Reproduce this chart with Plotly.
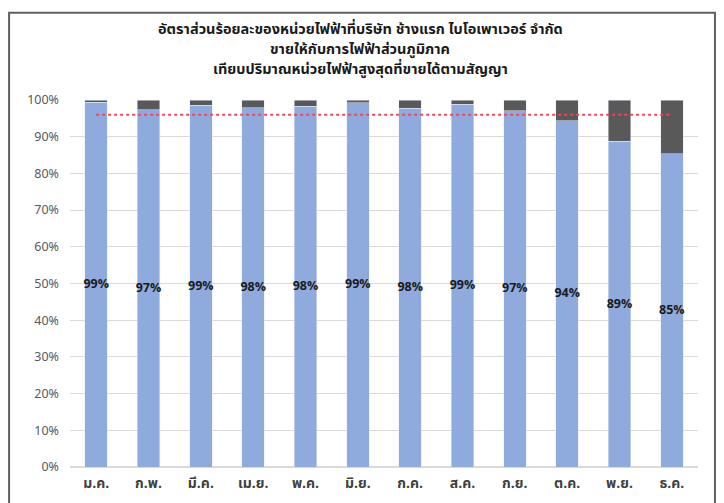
import plotly.graph_objects as go

months = ["ม.ค.", "ก.พ.", "มี.ค.", "เม.ย.", "พ.ค.", "มิ.ย.",
          "ก.ค.", "ส.ค.", "ก.ย.", "ต.ค.", "พ.ย.", "ธ.ค."]
sold_pct = [99.4, 97.3, 98.6, 97.9, 98.3, 99.2, 97.7, 98.9, 97.1, 94.4, 88.7, 85.3]
rest_pct = [round(100 - v, 1) for v in sold_pct]
target_pct = [96] * len(months)

title_lines = [
    "อัตราส่วนร้อยละของหน่วยไฟฟ้าที่บริษัท ช้างแรก ไบโอเพาเวอร์ จำกัด",
    "ขายให้กับการไฟฟ้าส่วนภูมิภาค",
    "เทียบปริมาณหน่วยไฟฟ้าสูงสุดที่ขายได้ตามสัญญา",
]

THAI = "Tahoma, 'Noto Sans Thai', 'Noto Sans', sans-serif"

fig = go.Figure()
fig.add_trace(go.Bar(
    x=months, y=sold_pct, marker_color="#8faadc",
    text=[f"{v:.0f}%" for v in sold_pct], textposition="inside",
    insidetextanchor="middle", textangle=0, constraintext="none",
    textfont=dict(family=THAI, size=12.5, color="#1a1a1a", weight="bold"),
    showlegend=False,
))
fig.add_trace(go.Bar(
    x=months, y=rest_pct, marker_color="#595959",
    showlegend=False, hoverinfo="skip",
))
fig.add_trace(go.Scatter(
    x=months, y=target_pct, mode="lines",
    line=dict(color="#e8495b", width=2, dash="dot"),
    showlegend=False,
))

# outer chart frame
fig.add_shape(type="rect", xref="paper", yref="paper",
              x0=-0.097, x1=1.027, y0=-0.3, y1=1.238,
              line=dict(color="#606060", width=2), layer="above")

# title, one annotation per line
for y, line in zip([1.191, 1.136, 1.082], title_lines):
    fig.add_annotation(
        text=line, xref="paper", yref="paper", x=0.462, y=y,
        xanchor="center", yanchor="middle", showarrow=False,
        font=dict(family=THAI, size=14.5, color="#1a1a1a", weight="bold"),
    )

fig.update_layout(
    width=724, height=503,
    margin=dict(l=62, r=34, t=92, b=44),
    barmode="stack", bargap=0.57,
    plot_bgcolor="white", paper_bgcolor="white",
    xaxis=dict(
        tickfont=dict(family=THAI, size=14, color="#404040", weight="bold"),
        showgrid=False, showline=False, ticks="", ticklabelstandoff=6,
    ),
    yaxis=dict(
        range=[0, 100], dtick=10, ticksuffix="%",
        tickfont=dict(family=THAI, size=12.5, color="#595959"),
        gridcolor="#d9d9d9", gridwidth=1, zeroline=True,
        zerolinecolor="#d9d9d9", showline=False, ticks="",
        ticklabelstandoff=10,
    ),
)

fig.write_html("out.html")
